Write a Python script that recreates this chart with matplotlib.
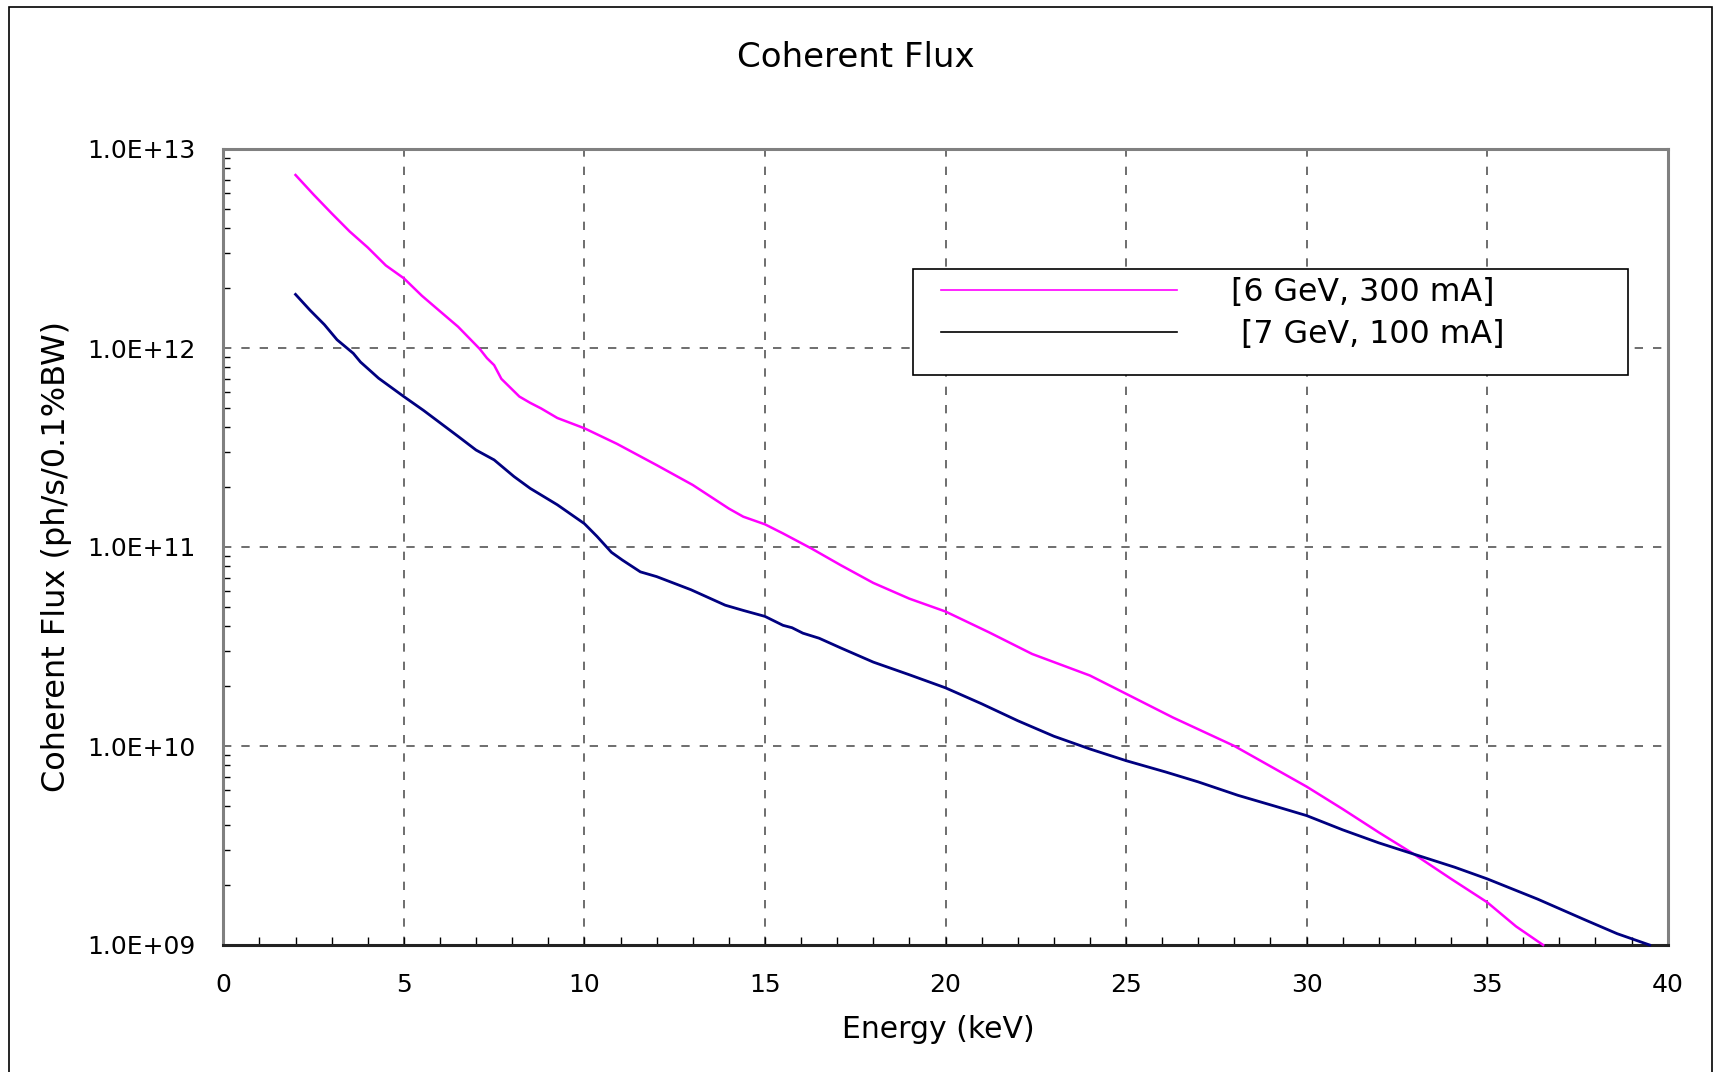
import matplotlib
matplotlib.use("Agg")
import matplotlib.pyplot as plt
from matplotlib.patches import Rectangle
from matplotlib.lines import Line2D
from matplotlib.ticker import FixedLocator, MultipleLocator, FuncFormatter, LogLocator, NullFormatter

plt.rcParams['font.family'] = ['DejaVu Sans']

title = "Coherent Flux"
xlabel = "Energy (keV)"
ylabel = "Coherent Flux (ph/s/0.1%BW)"
series_labels = ["[6 GeV, 300 mA]", " [7 GeV, 100 mA]"]
x_ticks = [0, 5, 10, 15, 20, 25, 30, 35, 40]
y_ticks = [1e9, 1e10, 1e11, 1e12, 1e13]

energy_6gev = [2.0, 2.5, 3.0, 3.5, 4.0, 4.5, 5.0, 5.5, 6.0, 6.5, 7.1, 7.3, 7.5, 7.7,
               8.2, 8.5, 8.8, 9.25, 10.0, 10.9, 12.0, 13.0, 14.0, 14.4, 15.0, 15.5,
               16.3, 17.1, 18.0, 19.0, 20.0, 21.2, 22.4, 24.0, 25.0, 26.3, 28.0,
               30.0, 31.0, 32.0, 33.0, 34.0, 35.0, 35.8, 36.55]
flux_6gev = [7.4e12, 5.9e12, 4.75e12, 3.85e12, 3.2e12, 2.6e12, 2.24e12, 1.83e12,
             1.53e12, 1.28e12, 9.9e11, 8.9e11, 8.2e11, 7.0e11, 5.7e11, 5.3e11,
             4.97e11, 4.45e11, 3.95e11, 3.3e11, 2.58e11, 2.05e11, 1.56e11, 1.42e11,
             1.30e11, 1.17e11, 9.8e10, 8.1e10, 6.6e10, 5.5e10, 4.74e10, 3.73e10,
             2.9e10, 2.26e10, 1.83e10, 1.39e10, 1.0e10, 6.25e9, 4.82e9, 3.68e9,
             2.84e9, 2.15e9, 1.64e9, 1.24e9, 1.0e9]

energy_7gev = [2.0, 2.4, 2.8, 3.15, 3.6, 3.8, 4.1, 4.3, 5.0, 5.55, 6.5, 7.0, 7.5,
               8.05, 8.5, 9.25, 10.0, 10.35, 10.75, 11.05, 11.55, 12.0, 12.95, 13.9,
               14.4, 15.0, 15.5, 15.75, 16.05, 16.5, 17.1, 18.0, 19.0, 20.0, 21.0,
               22.0, 23.0, 24.0, 25.0, 26.1, 27.0, 28.1, 29.1, 30.0, 31.0, 32.0,
               33.0, 34.1, 35.0, 36.4, 37.7, 38.6, 39.5]
flux_7gev = [1.86e12, 1.55e12, 1.31e12, 1.10e12, 9.4e11, 8.5e11, 7.6e11, 7.05e11,
             5.7e11, 4.85e11, 3.6e11, 3.07e11, 2.74e11, 2.26e11, 1.97e11, 1.63e11,
             1.31e11, 1.13e11, 9.4e10, 8.6e10, 7.5e10, 7.1e10, 6.1e10, 5.1e10,
             4.8e10, 4.48e10, 4.04e10, 3.93e10, 3.69e10, 3.48e10, 3.11e10, 2.64e10,
             2.28e10, 1.96e10, 1.63e10, 1.34e10, 1.12e10, 9.66e9, 8.44e9, 7.4e9,
             6.6e9, 5.65e9, 5.0e9, 4.47e9, 3.79e9, 3.26e9, 2.85e9, 2.46e9, 2.15e9,
             1.70e9, 1.34e9, 1.14e9, 1.0e9]

W, H = 1718, 1072
fig = plt.figure(figsize=(W / 100, H / 100), dpi=100)
ax = fig.add_axes([223.3 / W, 1 - 945 / H, (1667.7 - 223.3) / W, (945 - 149) / H])

ax.plot(energy_6gev, flux_6gev, color="#FF00FF", lw=1.8, zorder=3, clip_on=False)
ax.plot(energy_7gev, flux_7gev, color="#000080", lw=2.0, zorder=3, clip_on=False)

ax.set_yscale("log")
ax.set_xlim(0, 40)
ax.set_ylim(1e9, 1e13)
ax.xaxis.set_major_locator(FixedLocator(x_ticks))
ax.xaxis.set_minor_locator(MultipleLocator(1))
ax.yaxis.set_major_locator(FixedLocator(y_ticks))
ax.yaxis.set_minor_locator(LogLocator(base=10, subs=range(2, 10)))
ax.yaxis.set_minor_formatter(NullFormatter())
ax.yaxis.set_major_formatter(FuncFormatter(lambda v, p: f"{v:.1E}"))

ax.tick_params(axis="x", which="both", direction="in", length=6, width=1, color="black",
               labelsize=18, pad=20, top=False)
ax.tick_params(axis="y", which="major", direction="in", length=0, labelsize=18, pad=20, right=False)
ax.tick_params(axis="y", which="minor", direction="in", length=5, width=1, color="black", right=False)

ax.grid(True, which="major", color="#555555", linestyle=(0, (5, 6)), linewidth=1.2)
ax.set_axisbelow(True)

for side in ["left", "top", "right"]:
    ax.spines[side].set_color("#808080")
    ax.spines[side].set_linewidth(2.2)
ax.spines["bottom"].set_color("#222222")
ax.spines["bottom"].set_linewidth(2.2)

# titles and labels
fig.text(856 / W, 1 - 57 / H, title, fontsize=24.5, ha="center", va="center")
fig.text(938 / W, 1 - 1029 / H, xlabel, fontsize=21.5, ha="center", va="center")
fig.text(57 / W, 1 - 556 / H, ylabel, fontsize=23, ha="center", va="center", rotation=90)

# legend box
ax.add_patch(Rectangle((912.6 / W, 1 - 375 / H), (1628 - 912.6) / W, (375 - 269) / H,
                       transform=fig.transFigure, facecolor="white", edgecolor="black",
                       linewidth=1.2, zorder=4, clip_on=False))
handles = [Line2D([], [], color="#FF00FF", lw=1.2), Line2D([], [], color="black", lw=1.2)]
leg = ax.legend(handles, series_labels, loc="upper left",
                bbox_to_anchor=(941 / W, 1 - 277 / H), bbox_transform=fig.transFigure,
                frameon=False, fontsize=22.8, handlelength=7.45, handletextpad=1.7,
                borderpad=0, borderaxespad=0, labelspacing=0.35)
leg.set_zorder(5)

# outer border
fig.patches.append(Rectangle((9 / W, -0.01), (1712 - 9) / W, 1.01 - 7 / H,
                             transform=fig.transFigure, fill=False, edgecolor="black",
                             linewidth=1.2))

fig.savefig("out.png", dpi=100)
